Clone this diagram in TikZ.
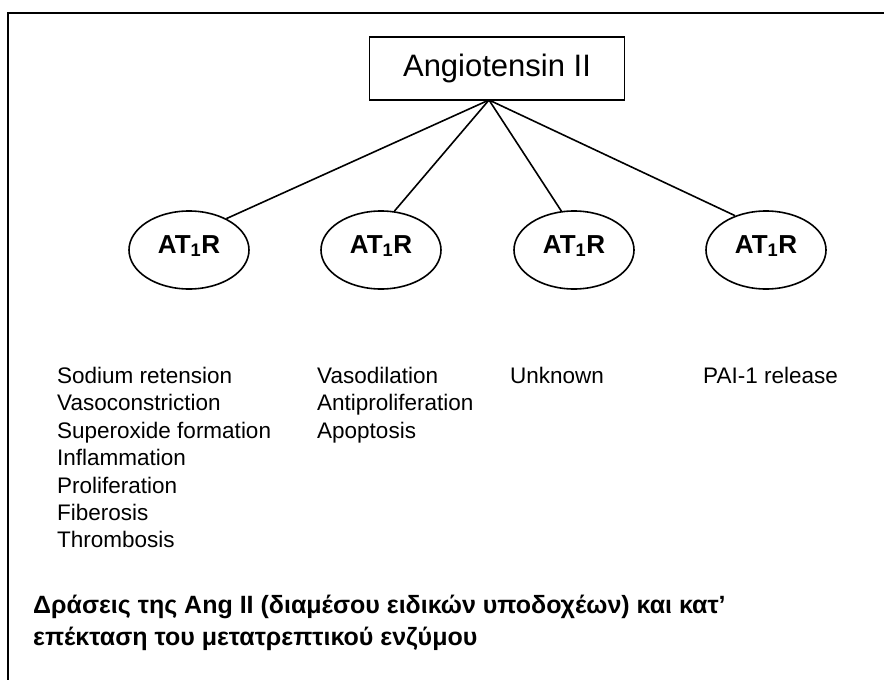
\documentclass[tikz,border=0pt]{standalone}
\usepackage{fontspec}
\setmainfont{Liberation Sans}
\usetikzlibrary{positioning,shapes.geometric}
\tikzset{
    hormone/.style={
        draw,
        line width=1.6pt,
        minimum width=255pt,
        minimum height=63pt,
        font=\fontsize{31}{35}\selectfont
    },
    receptor/.style={
        draw,
        line width=1.6pt,
        ellipse,
        minimum width=120pt,
        minimum height=78pt,
        inner sep=0pt,
        text height=19pt,
        text depth=13pt,
        font=\bfseries\fontsize{26}{30}\selectfont
    },
    effects/.style={
        align=left,
        anchor=north west,
        inner sep=0pt,
        font=\fontsize{22.5}{27.4}\selectfont
    },
    link/.style={line width=1.6pt}
}
\begin{document}
\begin{tikzpicture}[x=1pt,y=-1pt]
            \useasboundingbox (0,0) rectangle (884,680);
            \clip (0,0) rectangle (884,680);
            \draw[line width=1.8pt] (8,13) rectangle (900,700);
            \node[hormone] (ang) at (497,68.5) {Angiotensin II};
            \node[receptor] (r1) at (189,250) {AT\textsubscript{1}R};
            \node[receptor] (r2) at (381,250) {AT\textsubscript{1}R};
            \node[receptor] (r3) at (574,250) {AT\textsubscript{1}R};
            \node[receptor] (r4) at (766,250) {AT\textsubscript{1}R};
            \coordinate (apex) at (489,100);
            \foreach \r/\a in {r1/40,r2/71,r3/108,r4/132}
              \draw[link] (apex) -- (\r.\a);
            \node[effects] (e1) at (57,367) {Sodium retension\\Vasoconstriction\\Superoxide formation\\Inflammation\\Proliferation\\Fiberosis\\Thrombosis};
            \node[effects] (e2) at (317,367) {Vasodilation\\Antiproliferation\\Apoptosis};
            \node[effects] (e3) at (510,367) {Unknown};
            \node[effects] (e4) at (703,367) {PAI-1 release};
            \node[effects,font=\bfseries\fontsize{25}{32}\selectfont] (cap) at (33,595)
              {Δράσεις της Ang II (διαμέσου ειδικών υποδοχέων) και κατ’\\επέκταση του μετατρεπτικού ενζύμου};
          \end{tikzpicture}
\end{document}
